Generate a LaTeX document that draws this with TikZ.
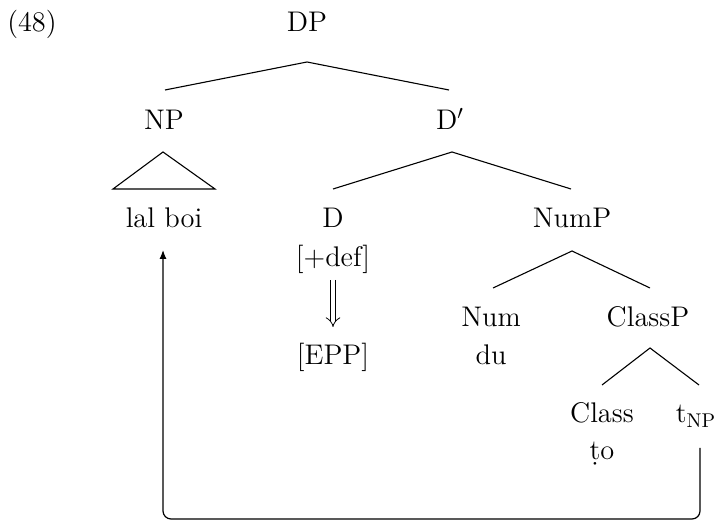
\documentclass[tikz,border=0pt]{standalone}
\usetikzlibrary{arrows.meta}
\begin{document}
\begin{tikzpicture}[x=0.5pt,y=-0.5pt,line width=0.5pt,
  lbl/.style={anchor=base,inner sep=0pt,font=\fontsize{14.2}{17}\selectfont},
  branch/.style={line width=0.55pt},
  move/.style={line width=0.6pt,rounded corners=4pt,-{Latex[length=4.5pt,width=3.5pt]}},
  feat/.style={double,double distance=2.2pt,line width=0.4pt,-{Implies[]}}]
\useasboundingbox (0,0) rectangle (716,522);
% labels
\node[lbl] (ex) at (32,32) {(48)};
\node[lbl] (DP) at (307,32) {DP};
\node[lbl] (NP) at (164,130) {NP};
\node[lbl] (Dbar) at (450,130) {D$'$};
\node[lbl] (lalboi) at (164,228) {lal boi};
\node[lbl] (D) at (333,228) {D};
\node[lbl] (def) at (333,267) {[+def]};
\node[lbl] (EPP) at (333,365) {[EPP]};
\node[lbl] (NumP) at (572,228) {NumP};
\node[lbl] (Num) at (491,327) {Num};
\node[lbl] (du) at (491,365) {du};
\node[lbl] (ClassP) at (648,327) {ClassP};
\node[lbl] (Class) at (602,423) {Class};
\node[lbl] (to) at (602,460) {\d{t}o};
\node[lbl] (tNP) at (696,423) {t\textsubscript{NP}};
% branch points
\coordinate (DPa) at (307,62);
\coordinate (DPl) at (165,90);
\coordinate (DPr) at (449,90);
\coordinate (NPa) at (163,152);
\coordinate (NPl) at (113,189);
\coordinate (NPr) at (215,189);
\coordinate (Dba) at (452,152);
\coordinate (Dbl) at (333,189);
\coordinate (Dbr) at (571,189);
\coordinate (NumPa) at (572,251);
\coordinate (NumPl) at (493,288);
\coordinate (NumPr) at (650,288);
\coordinate (CPa) at (650,348);
\coordinate (CPl) at (602,385);
\coordinate (CPr) at (699,385);
\draw[branch] (DPl) -- (DPa) -- (DPr);
\draw[branch] (NPl) -- (NPa) -- (NPr) -- cycle;
\draw[branch] (Dbl) -- (Dba) -- (Dbr);
\draw[branch] (NumPl) -- (NumPa) -- (NumPr);
\draw[branch] (CPl) -- (CPa) -- (CPr);
% feature arrow
\coordinate (defb) at (333,280);
\coordinate (EPPt) at (333,327);
\draw[feat] (defb) -- (EPPt);
% movement arrow
\coordinate (tfoot) at (700,448);
\coordinate (bend) at (163,519);
\coordinate (tip) at (163,250);
\draw[move] (tfoot) |- (bend) -- (tip);
\end{tikzpicture}
\end{document}
